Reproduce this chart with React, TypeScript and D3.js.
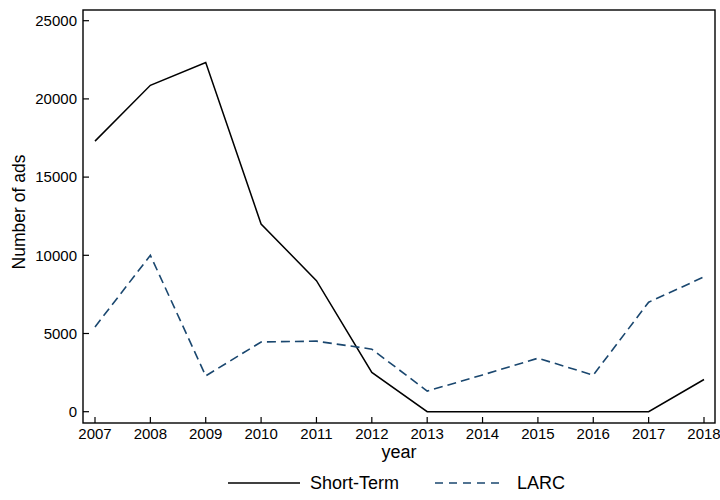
import React from 'react';
import * as d3 from 'd3';

const years = [2007, 2008, 2009, 2010, 2011, 2012, 2013, 2014, 2015, 2016, 2017, 2018];
const shortTerm = [17300, 20870, 22330, 12000, 8380, 2510, 0, 0, 0, 0, 0, 2060];
const larc = [5420, 10000, 2290, 4460, 4510, 4000, 1320, 2350, 3420, 2340, 7000, 8620];
const yTicks = [0, 5000, 10000, 15000, 20000, 25000];

const W = 720;
const H = 500;
const box = {left: 83, right: 715, top: 10, bottom: 423};
const font = '"Liberation Sans", Arial, Helvetica, sans-serif';

export default function App() {
    const x = d3.scaleLinear().domain([2007, 2018]).range([95, 704]);
    const y = d3.scaleLinear().domain([0, 25000]).range([411.7, 20.7]);

    const line = d3.line<number>()
        .x((d, i) => x(years[i]))
        .y(d => y(d));

    return (
        <svg width={W} height={H} style={{position: 'absolute', left: 0, top: 0}}
             fontFamily={font}>
            <rect x={0} y={0} width={W} height={H} fill="white"/>
            {/* y ticks, pointing in */}
            {yTicks.map(t => (
                <g key={t}>
                    <line x1={box.left} x2={box.left + 6} y1={y(t)} y2={y(t)} stroke="black" strokeWidth={1.2}/>
                    <text x={box.left - 6} y={y(t)} dy="0.35em" textAnchor="end" fontSize={15}>{t}</text>
                </g>
            ))}
            {years.map(yr => (
                <g key={yr}>
                    <line x1={x(yr)} x2={x(yr)} y1={box.bottom} y2={box.bottom - 6} stroke="black" strokeWidth={1.2}/>
                    <text x={x(yr)} y={439} textAnchor="middle" fontSize={15}>{yr}</text>
                </g>
            ))}
            <path d={line(shortTerm) || ''} fill="none" stroke="black" strokeWidth={1.5}/>
            <path d={line(larc) || ''} fill="none" stroke="#1a476f" strokeWidth={1.6} strokeDasharray="9,5"/>
            <rect x={box.left} y={box.top} width={box.right - box.left} height={box.bottom - box.top}
                  fill="none" stroke="black" strokeWidth={1.4}/>
            <text x={(box.left + box.right) / 2} y={458} textAnchor="middle" fontSize={18}>year</text>
            <text transform={`translate(25,212) rotate(-90)`} textAnchor="middle"
                  fontSize={17.5}>Number of ads</text>
            {/* legend */}
            <line x1={228} x2={300} y1={483} y2={483} stroke="black" strokeWidth={1.5}/>
            <text x={310} y={489} fontSize={18}>Short-Term</text>
            <line x1={435} x2={503} y1={483} y2={483} stroke="#1a476f" strokeWidth={1.6} strokeDasharray="8,6"/>
            <text x={517} y={489} fontSize={18}>LARC</text>
        </svg>
    );
}
